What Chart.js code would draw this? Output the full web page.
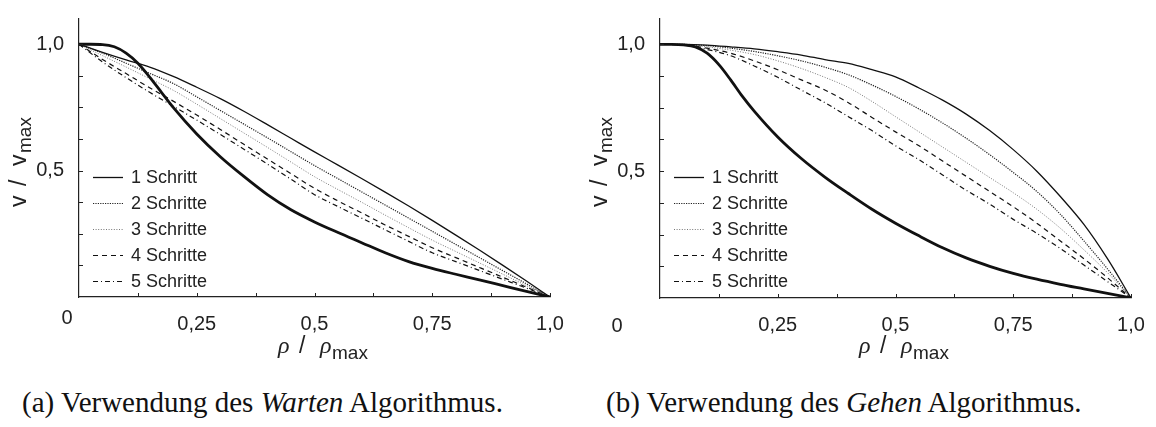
<!DOCTYPE html>
<html><head><meta charset="utf-8">
<script src="https://cdn.jsdelivr.net/npm/chart.js@4"></script>
<style>
html,body{margin:0;padding:0;background:#fff;}
#wrap{position:relative;width:1156px;height:427px;overflow:hidden;background:#fff;}
canvas{position:absolute;top:0;}
.cap{position:absolute;top:388px;font-family:"Liberation Serif",serif;font-size:29px;line-height:29px;color:#111;white-space:nowrap;}
</style></head><body>
<div id="wrap">
<canvas id="cA" width="578" height="380" style="left:0"></canvas>
<canvas id="cB" width="578" height="380" style="left:578px"></canvas>
<div class="cap" style="left:22px">(a) Verwendung des <i>Warten</i> Algorithmus.</div>
<div class="cap" style="left:606px">(b) Verwendung des <i>Gehen</i> Algorithmus.</div>
</div>
<script>
// ---- tick values and labels ----
const tickVals = [0, 0.125, 0.25, 0.375, 0.5, 0.625, 0.75, 0.875, 1];
const xTickLabels = {0.25: '0,25', 0.5: '0,5', 0.75: '0,75', 1: '1,0'};
const yTickLabels = {0.5: '0,5', 1: '1,0'};
const seriesLabels = ['1 Schritt', '2 Schritte', '3 Schritte', '4 Schritte', '5 Schritte'];

// ---- density grids ----
const rho = [0,0.05,0.1,0.15,0.2,0.25,0.3,0.35,0.4,0.45,0.5,0.55,0.6,0.65,0.7,0.75,0.8,0.85,0.9,0.95,1];
const rhoFine = [0,0.025,0.05,0.075,0.1,0.125,0.15,0.175,0.2,0.25,0.3,0.35,0.4,0.45,0.5,0.55,0.6,0.65,0.7,0.75,0.8,0.85,0.9,0.95,1];

// ---- (a) Warten ----
const wartenRef = [1.0,1.0,0.999,0.99,0.965,0.925,0.87,0.81,0.75,0.645,0.555,0.477,0.405,0.345,0.297,0.255,0.215,0.175,0.14,0.113,0.09,0.068,0.045,0.022,0];
const warten1 = [1.0,0.968,0.938,0.91,0.873,0.83,0.785,0.735,0.682,0.628,0.574,0.522,0.469,0.415,0.36,0.303,0.245,0.186,0.125,0.063,0];
const warten2 = [1.0,0.965,0.925,0.885,0.845,0.792,0.738,0.684,0.63,0.575,0.52,0.468,0.416,0.364,0.312,0.26,0.208,0.156,0.104,0.052,0];
const warten3 = [1.0,0.955,0.91,0.864,0.818,0.763,0.706,0.649,0.592,0.534,0.476,0.425,0.375,0.324,0.274,0.225,0.18,0.135,0.09,0.045,0];
const warten4 = [1.0,0.94,0.884,0.828,0.775,0.72,0.663,0.604,0.546,0.488,0.43,0.38,0.333,0.285,0.24,0.195,0.156,0.117,0.078,0.039,0];
const warten5 = [1.0,0.93,0.868,0.81,0.755,0.7,0.643,0.585,0.526,0.466,0.405,0.358,0.312,0.266,0.22,0.175,0.14,0.105,0.07,0.035,0];

// ---- (b) Gehen ----
const gehenRef = [1.0,1.0,0.998,0.99,0.965,0.92,0.86,0.795,0.737,0.635,0.55,0.477,0.412,0.35,0.295,0.245,0.198,0.158,0.125,0.097,0.074,0.054,0.036,0.018,0];
const gehen1 = [1.0,1.0,0.997,0.99,0.982,0.971,0.958,0.94,0.925,0.9,0.872,0.828,0.78,0.725,0.66,0.585,0.5,0.4,0.29,0.155,0];
const gehen2 = [1.0,1.0,0.995,0.985,0.972,0.955,0.935,0.91,0.88,0.84,0.795,0.745,0.69,0.63,0.565,0.495,0.42,0.33,0.225,0.115,0];
const gehen3 = [1.0,0.999,0.99,0.977,0.96,0.935,0.905,0.87,0.83,0.775,0.715,0.655,0.595,0.535,0.475,0.415,0.35,0.275,0.19,0.1,0];
const gehen4 = [1.0,0.998,0.985,0.965,0.935,0.9,0.86,0.82,0.77,0.712,0.655,0.6,0.54,0.48,0.42,0.36,0.295,0.225,0.155,0.08,0];
const gehen5 = [1.0,0.997,0.98,0.955,0.915,0.87,0.82,0.77,0.715,0.66,0.6,0.545,0.485,0.425,0.37,0.31,0.255,0.195,0.13,0.065,0];

const styles = [
  {borderColor:'#111', borderWidth:1.3, borderDash:[]},
  {borderColor:'#222', borderWidth:1.2, borderDash:[1.2,1.2]},
  {borderColor:'#777', borderWidth:1.0, borderDash:[1,1.6]},
  {borderColor:'#111', borderWidth:1.2, borderDash:[5,4]},
  {borderColor:'#111', borderWidth:1.2, borderDash:[5,3,1,3]}
];

const zip = (xs, ys) => xs.map((x, i) => ({x: x, y: ys[i]}));

Chart.defaults.font.family = '"Liberation Sans", sans-serif';
Chart.defaults.color = '#222';

const decor = {
  id: 'decor',
  afterDraw(chart) {
    const g = chart.options.plugins.decor;
    const ctx = chart.ctx, xs = chart.scales.x, ys = chart.scales.y, a = chart.chartArea;
    ctx.save();
    // inner tick marks
    ctx.strokeStyle = '#222'; ctx.lineWidth = 1;
    tickVals.forEach(v => {
      if (v === 0) return;
      const px = Math.round(xs.getPixelForValue(v)) + 0.5;
      ctx.beginPath(); ctx.moveTo(px, a.bottom); ctx.lineTo(px, a.bottom - 4); ctx.stroke();
      const py = Math.round(ys.getPixelForValue(v)) + 0.5;
      ctx.beginPath(); ctx.moveTo(a.left, py); ctx.lineTo(a.left + 4, py); ctx.stroke();
    });
    // origin label
    ctx.fillStyle = '#222';
    ctx.font = '20px "Liberation Sans", sans-serif';
    ctx.textAlign = 'center'; ctx.textBaseline = 'alphabetic';
    ctx.fillText('0', g.zeroX, g.zeroY);
    // x title: rho / rho_max
    ctx.textAlign = 'left';
    const xl = a.left;
    ctx.font = 'italic 24px "Liberation Serif", serif';
    ctx.fillText('ρ', xl + 199, 353);
    ctx.font = '23px "Liberation Sans", sans-serif';
    ctx.fillText('/', xl + 220, 353);
    ctx.font = 'italic 24px "Liberation Serif", serif';
    ctx.fillText('ρ', xl + 241, 353);
    ctx.font = '19px "Liberation Sans", sans-serif';
    ctx.fillText('max', xl + 253, 359);
    // y title: v / v_max (rotated)
    ctx.save();
    ctx.translate(a.left - 53, 207);
    ctx.rotate(-Math.PI / 2);
    ctx.font = '23px "Liberation Sans", sans-serif';
    ctx.fillText('v', 0, 0);
    ctx.fillText('/', 21, 0);
    ctx.fillText('v', 41, 0);
    ctx.font = '19px "Liberation Sans", sans-serif';
    ctx.fillText('max', 54, 5);
    ctx.restore();
    // legend
    ctx.font = '18px "Liberation Sans", sans-serif';
    ctx.textBaseline = 'middle';
    let row = 0;
    chart.data.datasets.forEach(ds => {
      if (!ds.label) return;
      const y = a.top + 158 + row * 26;
      ctx.save();
      ctx.strokeStyle = ds.borderColor; ctx.lineWidth = ds.borderWidth;
      ctx.setLineDash(ds.borderDash || []);
      ctx.beginPath(); ctx.moveTo(a.left + 14, Math.round(y) + 0.5); ctx.lineTo(a.left + 44, Math.round(y) + 0.5); ctx.stroke();
      ctx.restore();
      ctx.fillStyle = '#222';
      ctx.fillText(ds.label, a.left + 52, y + 1);
      row++;
    });
    ctx.restore();
  }
};

function makeChart(id, refX, refY, series, g) {
  const W = 578, H = 380;
  const datasets = [{
    label: '', data: zip(refX, refY), borderColor: '#111', borderWidth: 2.8, pointRadius: 0,
    cubicInterpolationMode: 'monotone'
  }];
  series.forEach((s, i) => datasets.push(Object.assign({
    label: seriesLabels[i], data: zip(rho, s), pointRadius: 0, cubicInterpolationMode: 'monotone'
  }, styles[i])));
  return new Chart(document.getElementById(id), {
    type: 'line',
    data: {datasets},
    options: {
      responsive: false, animation: false, devicePixelRatio: 1,
      layout: {padding: {top: g.top, right: W - g.right, bottom: 0, left: 0}},
      plugins: {legend: {display: false}, tooltip: {enabled: false}, decor: g},
      scales: {
        x: {
          type: 'linear', min: 0, max: 1, bounds: 'data',
          afterFit: s => { s.height = H - g.bottom; },
          afterBuildTicks: s => { s.ticks = tickVals.map(v => ({value: v})); },
          grid: {display: false},
          border: {display: true, color: '#222', width: 1.2},
          ticks: {autoSkip: false, maxRotation: 0, padding: 7, color: '#222', font: {size: 20},
                  callback: v => xTickLabels[v] || ''}
        },
        y: {
          type: 'linear', min: 0, max: 1.1, bounds: 'data',
          afterFit: s => { s.width = g.left; },
          afterBuildTicks: s => { s.ticks = tickVals.map(v => ({value: v})); },
          grid: {display: false},
          border: {display: true, color: '#222', width: 1.2},
          ticks: {autoSkip: false, padding: 7, color: '#222', font: {size: 20},
                  callback: v => yTickLabels[v] || ''}
        }
      }
    },
    plugins: [decor]
  });
}

makeChart('cA', rhoFine, wartenRef, [warten1, warten2, warten3, warten4, warten5],
  {left: 79, right: 550, top: 7, bottom: 297, zeroX: 67, zeroY: 324});
makeChart('cB', rhoFine, gehenRef, [gehen1, gehen2, gehen3, gehen4, gehen5],
  {left: 82, right: 553, top: 8, bottom: 298, zeroX: 39, zeroY: 332});
</script>
</body></html>
